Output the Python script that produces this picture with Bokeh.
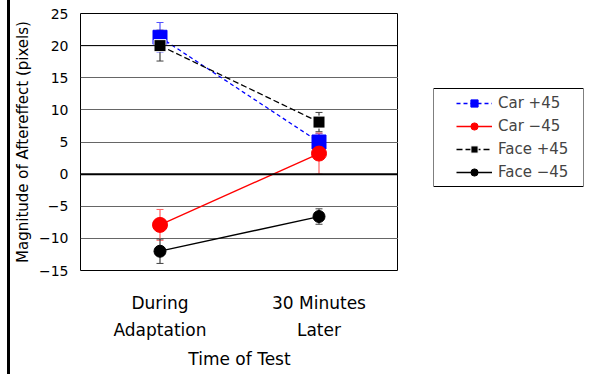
from bokeh.plotting import figure
from bokeh.models import (ColumnDataSource, Whisker, Span, Legend, LegendItem, FactorRange,
                          FixedTicker, Div, Spacer, BoxAnnotation)
from bokeh.layouts import row
from bokeh.embed import file_html
from bokeh.resources import INLINE

categories = ["During\nAdaptation", "30 Minutes\nLater"]
car_p45 = [21.3, 5.0]
car_p45_err = [2.3, 1.3]
car_m45 = [-7.9, 3.2]
car_m45_err = [2.4, 3.2]
face_p45 = [20.0, 8.1]
face_p45_err = [2.4, 1.5]
face_m45 = [-12.0, -6.6]
face_m45_err = [1.9, 1.2]
y_ticks = [-15, -10, -5, 0, 5, 10, 15, 20, 25]
series_names = ["Car +45", "Car \u221245", "Face +45", "Face \u221245"]

FONT = "DejaVu Sans"
TOP, BOTTOM = 13, 104

p = figure(x_range=FactorRange(*categories), y_range=(-15, 25), width=388, height=374,
           output_backend="svg", toolbar_location=None,
           min_border_left=67, min_border_right=0, min_border_top=TOP, min_border_bottom=BOTTOM)
p.outline_line_color = "black"
p.outline_line_width = 1
p.xgrid.grid_line_color = None
p.ygrid.grid_line_color = "#666666"
p.ygrid.grid_line_width = 1
p.yaxis.ticker = FixedTicker(ticks=y_ticks)
p.yaxis.major_label_overrides = {t: (str(t).replace("-", "\u2212")) for t in y_ticks}
for ax in (p.xaxis[0], p.yaxis[0]):
    ax.axis_line_color = None
    ax.major_tick_line_color = None
    ax.minor_tick_line_color = None
    ax.major_tick_out = 0
    ax.major_tick_in = 0
    ax.major_label_text_font = FONT
    ax.axis_label_text_font = FONT
    ax.axis_label_text_font_style = "normal"
    ax.major_label_text_color = "black"
    ax.axis_label_text_color = "black"
p.yaxis.major_label_text_font_size = "14px"
p.yaxis.axis_label = "Magnitude of Aftereffect (pixels)"
p.yaxis.axis_label_text_font_size = "15px"
p.yaxis.major_label_standoff = 12
p.yaxis.axis_label_standoff = 4
p.xaxis.major_label_text_font_size = "17px"
p.xaxis.major_label_text_line_height = 1.35
p.xaxis.axis_label = "Time of Test"
p.xaxis.axis_label_text_font_size = "17px"
p.xaxis.major_label_standoff = 22
p.xaxis.axis_label_standoff = 6

p.add_layout(Span(location=0, dimension="width", line_color="black", line_width=2))
p.add_layout(Span(location=20, dimension="width", line_color="black", line_width=1))

styles = [
    dict(color="#0000ff", err="#5050ff", marker="square", size=14, dash="4 3", outline="#0000ff"),
    dict(color="#ff0000", err="#ff6060", marker="circle", size=15, dash="solid", outline="#ff0000"),
    dict(color="black", err="#404040", marker="square", size=12, dash="6 3", outline="white"),
    dict(color="black", err="#404040", marker="circle", size=12, dash="solid", outline="black"),
]
data = [(car_p45, car_p45_err), (car_m45, car_m45_err), (face_p45, face_p45_err), (face_m45, face_m45_err)]

for (vals, errs), s in zip(data, styles):
    src = ColumnDataSource(dict(x=categories, y=vals,
                                lo=[v - e for v, e in zip(vals, errs)],
                                hi=[v + e for v, e in zip(vals, errs)]))
    w = Whisker(base="x", lower="lo", upper="hi", source=src, line_color=s["err"], line_width=1.2)
    w.upper_head.size = 7
    w.lower_head.size = 7
    w.upper_head.line_color = s["err"]
    w.lower_head.line_color = s["err"]
    p.add_layout(w)
    p.line("x", "y", source=src, line_color=s["color"], line_width=1.3, line_dash=s["dash"])
    p.scatter("x", "y", source=src, marker=s["marker"], size=s["size"], fill_color=s["color"],
              line_color=s["outline"], line_width=1)

# legend panel (frame aligned with main plot; x/y ranges equal pixel offsets in the frame)
frame_h = 374 - TOP - BOTTOM
lf = figure(width=192, height=374, x_range=(0, 150), y_range=(0, frame_h), output_backend="svg",
            toolbar_location=None, x_axis_location=None, y_axis_location=None,
            min_border_left=35, min_border_right=7, min_border_top=TOP, min_border_bottom=BOTTOM)
lf.outline_line_color = None
lf.grid.grid_line_color = None
lf.add_layout(BoxAnnotation(left=0, right=150, bottom=84, top=182, fill_color=None,
                            fill_alpha=0, line_color="black", line_width=1, line_alpha=1))
items = []
for name, s in zip(series_names, styles):
    esrc = ColumnDataSource(dict(x=[-50, -40], y=[-50, -40]))
    l1 = lf.line("x", "y", source=esrc, line_color=s["color"], line_width=1.3, line_dash=s["dash"])
    m1 = lf.scatter("x", "y", source=esrc, marker=s["marker"], size=s["size"] - 1, fill_color=s["color"],
                    line_color=s["outline"], line_width=1)
    items.append(LegendItem(label=name, renderers=[l1, m1]))
legend = Legend(items=items, location=(23, 89), border_line_color=None,
                background_fill_alpha=0, label_text_font=FONT, label_text_font_size="15px",
                glyph_width=36, glyph_height=18, spacing=5, padding=0, margin=0,
                label_standoff=6)
lf.add_layout(legend)

line_div = Div(width=3, height=374, margin=0, styles={"background-color": "black"})
page = row(Spacer(width=7, height=374, margin=0), line_div, p, lf, spacing=0)
open("out.html", "w").write(file_html(page, INLINE))
